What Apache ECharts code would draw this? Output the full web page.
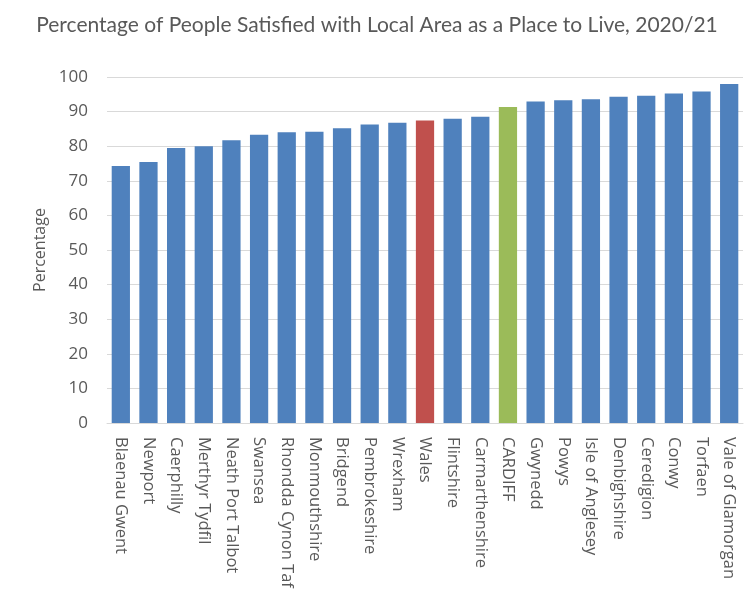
<!DOCTYPE html>
<html>
<head>
<meta charset="utf-8">
<script src="https://cdn.jsdelivr.net/npm/echarts@6/dist/echarts.min.js"></script>
<style>
html,body{margin:0;padding:0;background:#fff;}
#chart{width:754px;height:595px;}
</style>
</head>
<body>
<div id="chart"></div>
<script>
var categories = ["Blaenau Gwent","Newport","Caerphilly","Merthyr Tydfil","Neath Port Talbot","Swansea","Rhondda Cynon Taf","Monmouthshire","Bridgend","Pembrokeshire","Wrexham","Wales","Flintshire","Carmarthenshire","CARDIFF","Gwynedd","Powys","Isle of Anglesey","Denbighshire","Ceredigion","Conwy","Torfaen","Vale of Glamorgan"];
var values = [74.3,75.4,79.5,80.0,81.7,83.3,84.0,84.2,85.2,86.3,86.8,87.4,87.9,88.5,91.3,92.9,93.3,93.6,94.3,94.6,95.2,95.8,98.0];
var yTicks = [0,10,20,30,40,50,60,70,80,90,100];
var highlight = {"Wales":"#c0504d","CARDIFF":"#9bbb59"};
var baseColor = "#4f81bd";

var chart = echarts.init(document.getElementById('chart'));
chart.setOption({
  animation:false,
  title:{
    text:"Percentage of People Satisfied with Local Area as a Place to Live, 2020/21",
    left:'center', top:10,
    textStyle:{fontFamily:'Lato', fontWeight:'normal', fontSize:21, color:'#595959'}
  },
  grid:{left:107, right:11, top:77, bottom:172},
  xAxis:{
    type:'category', data:categories,
    axisLine:{show:true, lineStyle:{color:'#d9d9d9'}},
    axisTick:{show:false},
    axisLabel:{rotate:-90, interval:0, margin:14, fontFamily:'Open Sans', fontSize:16.5, color:'#595959'}
  },
  yAxis:{
    type:'value', min:yTicks[0], max:yTicks[yTicks.length-1], interval:10,
    name:'Percentage', nameLocation:'middle', nameGap:56, nameRotate:90,
    nameTextStyle:{fontFamily:'Open Sans', fontSize:16, color:'#595959'},
    axisLine:{show:false}, axisTick:{show:false},
    axisLabel:{margin:19, fontFamily:'Open Sans', fontSize:17, color:'#595959'},
    splitLine:{lineStyle:{color:'#d9d9d9'}}
  },
  series:[{
    type:'bar', barWidth:'66%',
    data: values.map(function(v,i){
      return {value:v, itemStyle:{color: highlight[categories[i]] || baseColor}};
    })
  }]
});
</script>
</body>
</html>
